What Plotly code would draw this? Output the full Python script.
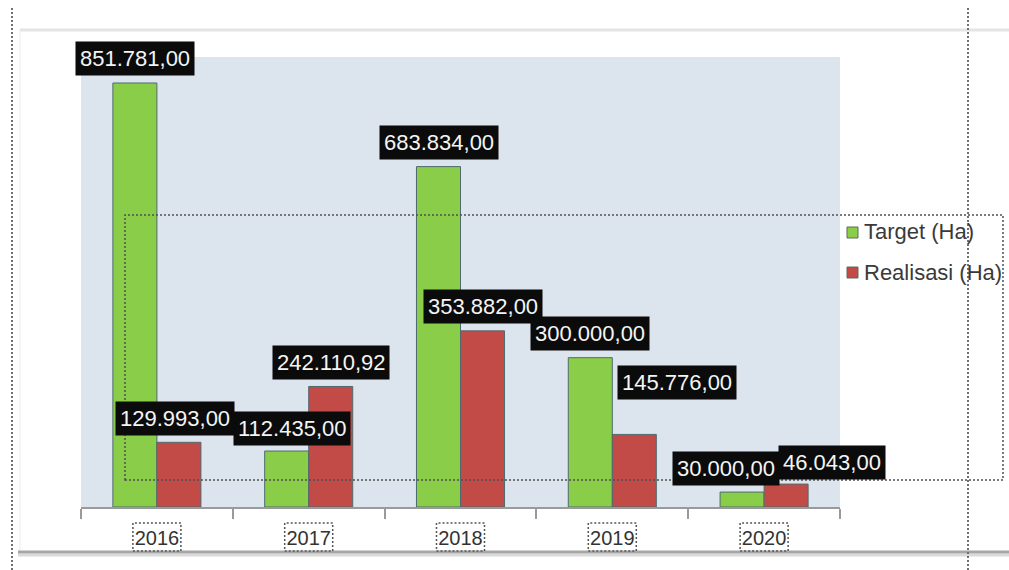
import plotly.graph_objects as go

# Yearly land targets vs. realised area (hectares)
years = ["2016", "2017", "2018", "2019", "2020"]
target_ha = [851781.00, 112435.00, 683834.00, 300000.00, 30000.00]
realisasi_ha = [129993.00, 242110.92, 353882.00, 145776.00, 46043.00]
series_names = ["Target (Ha)", "Realisasi (Ha)"]

GREEN = "#8acd48"
RED = "#c24a47"
OUTLINE = "#4f6b6e"
Y_MAX = 904000

# Figure geometry (pixels)
W, H = 1009, 570
L, R, T, B = 81, 840, 57, 507


def px(x):
    return (x - L) / (R - L)


def py(y):
    return (B - y) / (B - T)


def fmt_id(v):
    # Indonesian number style: 851.781,00
    s = f"{v:,.2f}"
    return s.replace(",", "#").replace(".", ",").replace("#", ".")


fig = go.Figure()
fig.add_trace(go.Bar(x=years, y=target_ha, name=series_names[0],
                     marker=dict(color=GREEN, line=dict(color=OUTLINE, width=1)),
                     hoverinfo="skip", showlegend=False))
fig.add_trace(go.Bar(x=years, y=realisasi_ha, name=series_names[1],
                     marker=dict(color=RED, line=dict(color=OUTLINE, width=1)),
                     hoverinfo="skip", showlegend=False))

# Value labels: black boxes above each bar; a few are nudged to avoid overlaps.
# Target labels go first so realisation labels sit on top where they touch.
bar_off = 22
label_nudge_target = [(0, 0), (5, -1), (0, 0), (0, 0), (-16, 0)]
label_nudge_real = [(-4, 0), (0, 0), (0, 0), (43, 28), (46, -2)]
annotations = []
for vals, sign, nudge in ((target_ha, -1, label_nudge_target),
                          (realisasi_ha, 1, label_nudge_real)):
    for i in range(len(years)):
        dx, dy = nudge[i]
        annotations.append(dict(
            x=i, y=vals[i], xref="x", yref="y",  # category index of the year
            text=fmt_id(vals[i]), showarrow=False,
            xanchor="center", yanchor="middle",
            xshift=sign * bar_off + dx, yshift=24 + dy,
            font=dict(family="Liberation Sans, Arial, sans-serif", size=22, color="#f4f4f4"),
            bgcolor="#0b0b0b", borderpad=4,
        ))

# Legend drawn by hand so the swatch sits tight against the text
legend_rows = [(series_names[0], GREEN, 232), (series_names[1], RED, 272)]
shapes = []
for name, col, yc in legend_rows:
    shapes.append(dict(type="rect", xref="paper", yref="paper",
                       x0=px(847), x1=px(858), y0=py(yc + 6), y1=py(yc - 5),
                       fillcolor=col, line=dict(color="#5a6a5a", width=1)))
    annotations.append(dict(x=px(862), y=py(yc), xref="paper", yref="paper",
                            text=name, showarrow=False, xanchor="left", yanchor="middle",
                            font=dict(family="Liberation Sans, Arial, sans-serif", size=22,
                                      color="#3a3a3a")))

# Panel frame: faint top/left edge and a grey shadow along the bottom
shapes += [
    dict(type="line", xref="paper", yref="paper", x0=px(20), x1=px(1009), y0=py(30), y1=py(30),
         line=dict(color="#e4e4e4", width=3)),
    dict(type="line", xref="paper", yref="paper", x0=px(20), x1=px(20), y0=py(30), y1=py(552),
         line=dict(color="#ececec", width=1)),
    dict(type="line", xref="paper", yref="paper", x0=px(18), x1=px(1009), y0=py(555), y1=py(555),
         line=dict(color="#dadada", width=3)),
    dict(type="line", xref="paper", yref="paper", x0=px(18), x1=px(1009), y0=py(552), y1=py(552),
         line=dict(color="#a6a6a6", width=3)),
    # dotted selection guides
    dict(type="line", xref="paper", yref="paper", x0=px(12), x1=px(12), y0=py(8), y1=py(570),
         line=dict(color="#707070", width=2, dash="2px,2px")),
    dict(type="line", xref="paper", yref="paper", x0=px(968), x1=px(968), y0=py(8), y1=py(570),
         line=dict(color="#707070", width=2, dash="2px,2px")),
    dict(type="rect", xref="paper", yref="paper", x0=px(125), x1=px(1003), y0=py(480), y1=py(215),
         line=dict(color="#505050", width=1.5, dash="2px,2px")),
]
# dotted focus boxes around the year labels
n = len(years)
for i in range(n):
    cx = (i + 0.5) / n
    shapes.append(dict(type="rect", xref="paper", yref="paper",
                       x0=cx - 24 / (R - L), x1=cx + 24 / (R - L),
                       y0=py(551), y1=py(523),
                       line=dict(color="#555555", width=1.5, dash="2px,2px")))

fig.update_layout(
    width=W, height=H, autosize=False,
    margin=dict(l=L, r=W - R, t=T, b=H - B, pad=0),
    paper_bgcolor="white", plot_bgcolor="#dce4ee",
    barmode="group", bargap=0.42, bargroupgap=0,
    font=dict(family="Liberation Sans, Arial, sans-serif"),
    xaxis=dict(type="category", range=[-0.5, n - 0.5], showline=True,
               linecolor="#9a9a9a", linewidth=2,
               ticks="outside", tickson="boundaries", ticklen=10, tickwidth=2,
               tickcolor="#9a9a9a", showgrid=False, zeroline=False,
               tickfont=dict(size=20, color="#333333"), ticklabelstandoff=12),
    yaxis=dict(range=[0, Y_MAX], visible=False, showgrid=False, zeroline=False),
    annotations=annotations, shapes=shapes, showlegend=False,
)

fig.write_html("out.html")
